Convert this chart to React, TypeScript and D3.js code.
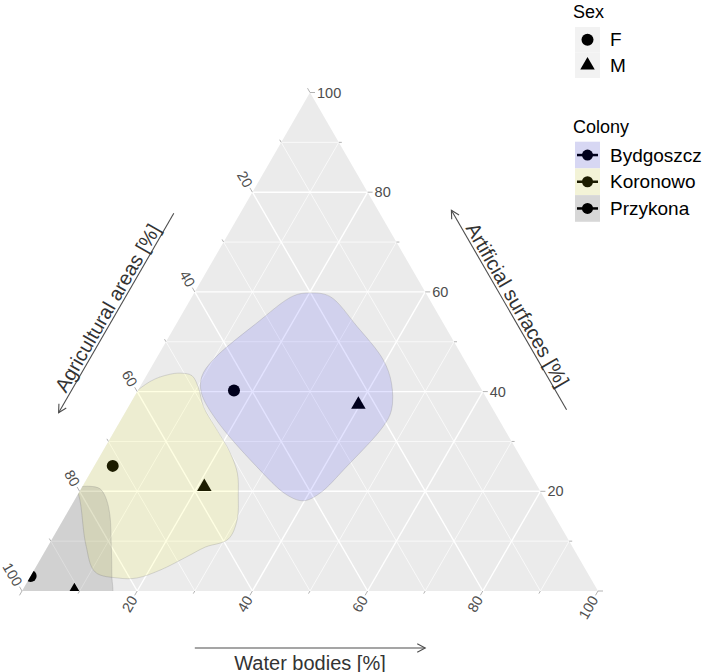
import React from "react";
import * as d3 from "d3";

// ---------- data ----------
const colonies = ["Bydgoszcz", "Koronowo", "Przykona"];
const sexes = ["F", "M"];
// composition [%] of each colony's female (F) and male (M) points
const agriF = [43.1, 71.7, 97.0];
const waterF = [16.7, 3.2, 0.0];
const artifF = [40.2, 25.1, 3.0];
const agriM = [22.9, 57.9, 90.9];
const waterM = [39.7, 21.2, 9.1];
const artifM = [37.4, 20.9, 0.0];
// outlines of colony regions as [water, artificial] (%), agricultural = 100 - both
const hullBydgoszcz: [number, number][] = [
  [20.1, 59.8], [23.9, 59.1], [31.6, 53.1], [39.5, 46.4], [43.3, 41.7], [46.0, 36.3],
  [46.2, 33.0], [43.9, 25.0], [41.9, 19.6], [39.8, 18.1], [36.3, 19.3], [28.2, 25.0],
  [16.6, 34.3], [11.3, 39.7], [9.7, 43.0], [10.0, 46.4], [13.9, 53.8], [17.5, 59.2],
];
const hullKoronowo: [number, number][] = [
  [5.6, 43.7], [7.9, 43.2], [10.3, 40.7], [13.0, 37.0], [17.7, 32.3], [22.3, 27.7],
  [25.6, 23.6], [27.9, 19.3], [30.2, 14.3], [30.6, 10.4], [27.4, 8.8], [25.2, 6.9],
  [21.9, 4.2], [18.6, 2.6], [15.4, 2.6], [10.8, 3.8], [6.5, 9.2], [0.9, 18.3],
  [-4.8, 26.3], [-2.4, 35.3], [1.2, 42.0], [3.7, 43.4],
];
const hullPrzykona: [number, number][] = [
  [1.3, 21.0], [3.3, 20.5], [5.2, 18.7], [7.6, 15.3], [10.9, 9.2], [14.0, 3.2],
  [16.4, -1.8], [14.2, -4.8], [2.1, -4.8], [-4.9, 2.2], [-3.3, 16.3], [-0.6, 20.7],
];
const hulls = [hullBydgoszcz, hullKoronowo, hullPrzykona];
const tickLabels = ["20", "40", "60", "80", "100"];
const tickValues = [0, 10, 20, 30, 40, 50, 60, 70, 80, 90, 100];
const gridValues = [10, 20, 30, 40, 50, 60, 70, 80, 90];
const axisTitles = ["Agricultural areas [%]", "Water bodies [%]", "Artificial surfaces [%]"];

// ---------- style ----------
const FONT = "'Liberation Sans', Arial, Helvetica, sans-serif";
const colonyColors = ["#0000ff", "#ffff00", "#000000"];
const FILL_OP = 0.11;

function triPath(cx: number, cy: number, side: number) {
  const R = side / Math.sqrt(3);
  return `M${cx},${cy - R}L${cx + (side / 2)},${cy + R / 2}L${cx - side / 2},${cy + R / 2}Z`;
}

export default function App() {
  const W = 709, H = 672;
  const base = d3.scaleLinear().domain([0, 100]).range([22, 598]);
  const yS = d3.scaleLinear().domain([0, 100]).range([591, 92.5]);
  const P = (w: number, s: number): [number, number] => [base(w + s / 2), yS(s)];

  const T = P(0, 100), BL = P(0, 0), BR = P(100, 0);
  const triD = `M${T[0]},${T[1]}L${BR[0]},${BR[1]}L${BL[0]},${BL[1]}Z`;

  const line = d3.line<[number, number]>().curve(d3.curveCatmullRomClosed.alpha(0.5));

  const c60 = 0.5, s60 = Math.sqrt(3) / 2;

  // grid
  const grid: JSX.Element[] = [];
  gridValues.forEach((v) => {
    const major = v % 20 === 0;
    const segs: [[number, number], [number, number]][] = [
      [P(0, v), P(100 - v, v)],
      [P(v, 0), P(v, 100 - v)],
      [P(0, 100 - v), P(100 - v, 0)],
    ];
    segs.forEach(([a, b], i) =>
      grid.push(
        <line key={`g${v}-${i}`} x1={a[0]} y1={a[1]} x2={b[0]} y2={b[1]}
          stroke="#ffffff" strokeWidth={major ? 1.4 : 0.7} />
      )
    );
  });

  // ticks
  const ticks: JSX.Element[] = [];
  tickValues.forEach((v) => {
    const len = v % 20 === 0 ? 5 : 3;
    const r = P(100 - v, v); // right edge (artificial)
    ticks.push(<line key={`tr${v}`} x1={r[0]} y1={r[1]} x2={r[0] + len} y2={r[1]} stroke="#b3b3b3" strokeWidth={1} />);
    const b = P(v, 0); // bottom (water)
    ticks.push(<line key={`tb${v}`} x1={b[0]} y1={b[1]} x2={b[0] - c60 * len} y2={b[1] + s60 * len} stroke="#b3b3b3" strokeWidth={1} />);
    const l = P(0, 100 - v); // left (agricultural)
    ticks.push(<line key={`tl${v}`} x1={l[0]} y1={l[1]} x2={l[0] - c60 * len} y2={l[1] - s60 * len} stroke="#b3b3b3" strokeWidth={1} />);
  });

  const labels: JSX.Element[] = [];
  tickLabels.forEach((t) => {
    const v = +t;
    const g = 7;
    const r = P(100 - v, v);
    labels.push(<text key={`lr${t}`} x={r[0] + g} y={r[1]} dominantBaseline="central" fontSize={14.5} fill="#4d4d4d">{t}</text>);
    const b = P(v, 0);
    const bx = b[0] - c60 * g, by = b[1] + s60 * g;
    labels.push(<text key={`lb${t}`} x={bx} y={by} transform={`rotate(-60 ${bx} ${by})`} textAnchor="end" dominantBaseline="central" fontSize={14.5} fill="#4d4d4d">{t}</text>);
    const l = P(0, 100 - v);
    const lx = l[0] - c60 * g, ly = l[1] - s60 * g;
    labels.push(<text key={`ll${t}`} x={lx} y={ly} transform={`rotate(60 ${lx} ${ly})`} textAnchor="end" dominantBaseline="central" fontSize={14.5} fill="#4d4d4d">{t}</text>);
  });

  // axis arrows
  const arrow = (a: [number, number], b: [number, number], n: [number, number], off: number, key: string) => {
    const x1 = a[0] + n[0] * off, y1 = a[1] + n[1] * off;
    const x2 = b[0] + n[0] * off, y2 = b[1] + n[1] * off;
    const ang = Math.atan2(y2 - y1, x2 - x1);
    const hl = 9, ha = (28 * Math.PI) / 180;
    const h1 = [x2 - hl * Math.cos(ang - ha), y2 - hl * Math.sin(ang - ha)];
    const h2 = [x2 - hl * Math.cos(ang + ha), y2 - hl * Math.sin(ang + ha)];
    return (
      <g key={key} stroke="#4d4d4d" strokeWidth={1.1} fill="none">
        <line x1={x1} y1={y1} x2={x2} y2={y2} />
        <path d={`M${h1[0]},${h1[1]}L${x2},${y2}L${h2[0]},${h2[1]}`} />
      </g>
    );
  };
  const lerp = (a: [number, number], b: [number, number], t: number): [number, number] => [a[0] + (b[0] - a[0]) * t, a[1] + (b[1] - a[1]) * t];

  const nL: [number, number] = [-s60, -c60];
  const nB: [number, number] = [0, 1];
  const nR: [number, number] = [s60, -c60];
  const offL = 57.5, offB = 57, offR = 63.5;

  const midL = lerp(T, BL, 0.5), midR = lerp(BR, T, 0.5), midB = lerp(BL, BR, 0.5);
  const tL = [midL[0] + nL[0] * (offL + 3), midL[1] + nL[1] * (offL + 3)];
  const tR = [midR[0] + nR[0] * (offR + 3), midR[1] + nR[1] * (offR + 3)];
  const tB = [midB[0], midB[1] + offB + 22];

  // points
  const pts: JSX.Element[] = [];
  colonies.forEach((c, i) => {
    const pf = P(waterF[i], artifF[i]);
    const pm = P(waterM[i], artifM[i]);
    pts.push(<circle key={`pf${c}`} cx={pf[0]} cy={pf[1]} r={6} fill="#000" />);
    pts.push(<path key={`pm${c}`} d={triPath(pm[0], pm[1], 14.5)} fill="#000" />);
  });

  // legend
  const legX = 575, keyW = 25;
  const sexKeyY = [27, 52.5], sexKeyH = 25.5;
  const colKeyY = [141.7, 168.4, 195.1], colKeyH = 26.7;

  return (
    <svg width={W} height={H} style={{ position: "absolute", left: 0, top: 0, background: "#fff" }} fontFamily={FONT}>
      <defs>
        <clipPath id="tri"><path d={triD} /></clipPath>
      </defs>
      <path d={triD} fill="#ebebeb" />
      {grid}
      <g clipPath="url(#tri)">
        {pts}
        {hulls.map((h, i) => (
          <path key={`h${i}`} d={line(h.map(([w, s]) => P(w, s))) || ""}
            fill={colonyColors[i]} fillOpacity={FILL_OP}
            stroke="#7a7a7a" strokeOpacity={0.3} strokeWidth={0.8} />
        ))}
      </g>
      {ticks}
      {labels}
      {arrow(lerp(T, BL, 0.3), lerp(T, BL, 0.7), nL, offL, "aL")}
      {arrow(lerp(BL, BR, 0.3), lerp(BL, BR, 0.7), nB, offB, "aB")}
      {arrow(lerp(BR, T, 0.3), lerp(BR, T, 0.7), nR, offR, "aR")}
      <text x={tL[0]} y={tL[1]} transform={`rotate(-60 ${tL[0]} ${tL[1]})`} textAnchor="middle" fontSize={20} fill="#333">{axisTitles[0]}</text>
      <text x={tB[0]} y={tB[1]} textAnchor="middle" fontSize={20} fill="#333">{axisTitles[1]}</text>
      <text x={tR[0]} y={tR[1]} transform={`rotate(60 ${tR[0]} ${tR[1]})`} textAnchor="middle" fontSize={20} fill="#333">{axisTitles[2]}</text>

      {/* legend: Sex */}
      <text x={573} y={18} fontSize={18} fill="#000">Sex</text>
      {sexes.map((s, i) => {
        const cy = sexKeyY[i] + sexKeyH / 2, cx = legX + keyW / 2;
        return (
          <g key={`ls${s}`}>
            <rect x={legX} y={sexKeyY[i]} width={keyW} height={sexKeyH} fill="#f2f2f2" />
            {i === 0 ? <circle cx={cx} cy={cy} r={6} fill="#000" /> : <path d={triPath(cx, cy, 14.5)} fill="#000" />}
            <text x={610} y={cy} dominantBaseline="central" fontSize={19} fill="#000">{s}</text>
          </g>
        );
      })}
      {/* legend: Colony */}
      <text x={573} y={133} fontSize={18} fill="#000">Colony</text>
      {colonies.map((c, i) => {
        const cy = colKeyY[i] + colKeyH / 2, cx = legX + keyW / 2;
        return (
          <g key={`lc${c}`}>
            <rect x={legX} y={colKeyY[i]} width={keyW} height={colKeyH} fill="#f2f2f2" />
            <line x1={legX + 2} y1={cy} x2={legX + keyW - 2} y2={cy} stroke="#000" strokeWidth={2.5} />
            <circle cx={cx} cy={cy} r={5.5} fill="#000" />
            <rect x={legX} y={colKeyY[i]} width={keyW} height={colKeyH} fill={colonyColors[i]} fillOpacity={FILL_OP} />
            <text x={610} y={cy} dominantBaseline="central" fontSize={19} fill="#000">{c}</text>
          </g>
        );
      })}
    </svg>
  );
}
